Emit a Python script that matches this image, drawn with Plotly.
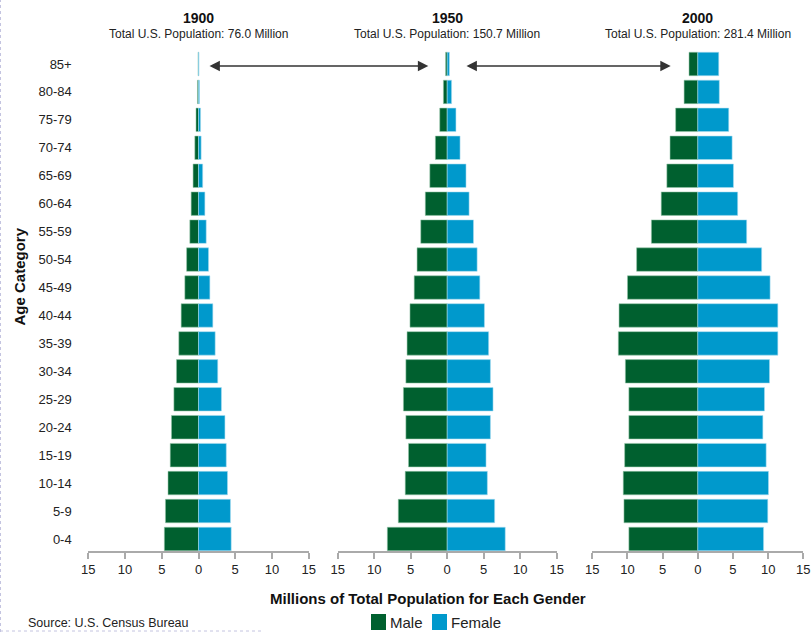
import plotly.graph_objects as go

W, H = 812, 632

# Age groups, youngest first (bottom of each pyramid)
age_groups = ["0-4", "5-9", "10-14", "15-19", "20-24", "25-29", "30-34", "35-39",
              "40-44", "45-49", "50-54", "55-59", "60-64", "65-69", "70-74",
              "75-79", "80-84", "85+"]

years = ["1900", "1950", "2000"]
totals = ["76.0", "150.7", "281.4"]

# Population in millions
male_1900 = [4.65, 4.5, 4.15, 3.85, 3.68, 3.35, 3.0, 2.68, 2.36, 1.86, 1.62, 1.18,
             1.0, 0.74, 0.5, 0.34, 0.14, 0.06]
female_1900 = [4.45, 4.35, 3.95, 3.78, 3.6, 3.12, 2.62, 2.27, 1.95, 1.55, 1.37, 1.05,
               0.87, 0.57, 0.36, 0.28, 0.13, 0.07]

male_1950 = [8.2, 6.7, 5.75, 5.3, 5.66, 6.0, 5.66, 5.5, 5.1, 4.52, 4.13, 3.62,
             3.0, 2.38, 1.62, 1.02, 0.52, 0.22]
female_1950 = [7.95, 6.5, 5.5, 5.32, 5.92, 6.28, 5.92, 5.68, 5.1, 4.47, 4.1, 3.6,
               3.0, 2.58, 1.76, 1.2, 0.6, 0.3]

male_2000 = [9.8, 10.5, 10.6, 10.4, 9.8, 9.8, 10.3, 11.3, 11.2, 10.0, 8.7, 6.6,
             5.2, 4.4, 3.95, 3.15, 1.95, 1.25]
female_2000 = [9.35, 9.95, 10.05, 9.72, 9.25, 9.48, 10.2, 11.38, 11.38, 10.28, 9.08,
               6.95, 5.67, 5.07, 4.88, 4.4, 3.06, 2.98]

male_series = [male_1900, male_1950, male_2000]
female_series = [female_1900, female_1950, female_2000]

tick_values = [-15, -10, -5, 0, 5, 10, 15]
tick_text = ["15", "10", "5", "0", "5", "10", "15"]

MALE = "#00602F"
FEMALE = "#0099CC"
FONT = "Arial, Liberation Sans, sans-serif"


def fx(p):
    return p / W


def fy(p):
    return 1 - p / H


# Horizontal pixel extents of the three pyramids
panels = [(88.3, 308.7), (337.7, 556.7), (592.3, 803.3)]
y_domain = [fy(551), fy(50)]

fig = go.Figure()
layout_axes = {}
for i, (year, males, females) in enumerate(zip(years, male_series, female_series)):
    sfx = "" if i == 0 else str(i + 1)
    xa, ya = "x" + sfx, "y" + sfx
    fig.add_trace(go.Bar(
        y=age_groups, x=[-v for v in males], orientation="h", name="Male",
        marker=dict(color=MALE, line=dict(color="rgba(150,200,170,0.7)", width=0.8)),
        xaxis=xa, yaxis=ya, showlegend=False,
        customdata=males, hovertemplate=year + " %{y}: %{customdata} M<extra>Male</extra>",
    ))
    fig.add_trace(go.Bar(
        y=age_groups, x=females, orientation="h", name="Female",
        marker=dict(color=FEMALE, line=dict(color="rgba(170,220,240,0.7)", width=0.8)),
        xaxis=xa, yaxis=ya, showlegend=False,
        hovertemplate=year + " %{y}: %{x} M<extra>Female</extra>",
    ))
    layout_axes["xaxis" + sfx] = dict(
        domain=[fx(panels[i][0]), fx(panels[i][1])], range=[-15, 15],
        anchor=ya, tickmode="array", tickvals=tick_values, ticktext=tick_text,
        showline=True, linecolor="#aaaaaa", linewidth=1.5,
        ticks="outside", ticklen=6, tickcolor="#aaaaaa", tickwidth=1.5,
        showgrid=False, zeroline=False,
        tickfont=dict(family=FONT, size=13, color="#222222"),
    )
    layout_axes["yaxis" + sfx] = dict(
        domain=y_domain, anchor=xa, type="category",
        categoryorder="array", categoryarray=age_groups,
        range=[-0.43, 17.5], showgrid=False, zeroline=False, showline=False,
        showticklabels=(i == 0), ticks="outside" if i == 0 else "",
        ticklen=13, tickcolor="rgba(0,0,0,0)",
        tickfont=dict(family=FONT, size=13, color="#222222"),
    )

annotations = []
for i, (year, total) in enumerate(zip(years, totals)):
    cx = fx((panels[i][0] + panels[i][1]) / 2)
    annotations.append(dict(x=cx, y=fy(18), xref="paper", yref="paper", text="<b>%s</b>" % year,
                            showarrow=False, font=dict(family=FONT, size=14, color="#111111"),
                            xanchor="center", yanchor="middle"))
    annotations.append(dict(x=cx, y=fy(34.5), xref="paper", yref="paper",
                            text="Total U.S. Population: %s Million" % total,
                            showarrow=False, font=dict(family=FONT, size=12, color="#222222"),
                            xanchor="center", yanchor="middle"))

# Double-headed arrows linking the 85+ groups
for head, tail in [(428.3, 208.0), (670.7, 465.0)]:
    annotations.append(dict(x=fx(head), y=fy(66), xref="paper", yref="paper",
                            ax=tail - head, ay=0, axref="pixel", ayref="pixel",
                            text="", showarrow=True, arrowside="end+start",
                            arrowhead=2, startarrowhead=2, arrowsize=1.3, startarrowsize=1.3,
                            arrowwidth=1.6, arrowcolor="#333333"))

annotations.append(dict(x=fx(18.5), y=fy(277), xref="paper", yref="paper",
                        text="<b>Age Category</b>", textangle=-90, showarrow=False,
                        font=dict(family=FONT, size=15, color="#111111"),
                        xanchor="center", yanchor="middle"))
annotations.append(dict(x=fx(428), y=fy(598), xref="paper", yref="paper",
                        text="<b>Millions of Total Population for Each Gender</b>", showarrow=False,
                        font=dict(family=FONT, size=15, color="#111111"),
                        xanchor="center", yanchor="middle"))
annotations.append(dict(x=fx(26), y=fy(623), xref="paper", yref="paper",
                        text="Source: U.S. Census Bureau", showarrow=False,
                        font=dict(family=FONT, size=12.5, color="#222222"),
                        xanchor="left", yanchor="middle"))

# Legend keys
shapes = []
for label, color, x0 in [("Male", MALE, 371), ("Female", FEMALE, 432)]:
    shapes.append(dict(type="rect", xref="paper", yref="paper",
                       x0=fx(x0), x1=fx(x0 + 15), y0=fy(630), y1=fy(614),
                       fillcolor=color, line=dict(width=0)))
    annotations.append(dict(x=fx(x0 + 17), y=fy(622), xref="paper", yref="paper",
                            text=label, showarrow=False,
                            font=dict(family=FONT, size=15, color="#222222"),
                            xanchor="left", yanchor="middle"))

# Dotted frame edges
shapes.append(dict(type="line", xref="paper", yref="paper", x0=0, x1=fx(262),
                   y0=fy(631), y1=fy(631), line=dict(color="#c4c4e0", width=1, dash="dot")))
shapes.append(dict(type="line", xref="paper", yref="paper", x0=fx(0.5), x1=fx(0.5),
                   y0=0, y1=1, line=dict(color="#c4c4e0", width=1, dash="dot")))

fig.update_layout(
    width=W, height=H, margin=dict(l=0, r=0, t=0, b=0),
    template="none", paper_bgcolor="white", plot_bgcolor="white",
    barmode="relative", bargap=0.16, showlegend=False,
    annotations=annotations, shapes=shapes,
    font=dict(family=FONT),
    **layout_axes,
)

fig.write_html("out.html")
